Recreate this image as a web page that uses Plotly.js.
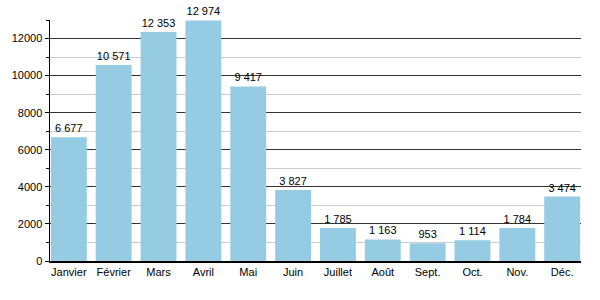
<!DOCTYPE html>
<html><head><meta charset="utf-8">
<script src="https://cdn.plot.ly/plotly-3.0.1.min.js"></script>
<style>body{margin:0;}#c{width:600px;height:300px;}</style>
</head><body><div id="c"></div>
<script>
const months = ["Janvier","Février","Mars","Avril","Mai","Juin","Juillet","Août","Sept.","Oct.","Nov.","Déc."];
const values = [6677,10571,12353,12974,9417,3827,1785,1163,953,1114,1784,3474];

Plotly.newPlot('c', [{
  type:'bar', x:months, y:values, width:0.8,
  marker:{color:'rgb(150,203,228)'},
  texttemplate:'%{y:,}', textposition:'outside', cliponaxis:false,
  textfont:{family:'Liberation Sans, Arial, sans-serif', size:11, color:'#000'},
  hoverinfo:'none'
}], {
  width:600, height:300,
  margin:{l:50, r:19, t:20, b:39},
  separators:', ',
  paper_bgcolor:'#fff', plot_bgcolor:'#fff',
  font:{family:'Liberation Sans, Arial, sans-serif', size:11, color:'#000'},
  xaxis:{range:[-0.42, 11.42], showline:true, linecolor:'#000', linewidth:1.5, ticks:'', tickfont:{size:11}},
  yaxis:{range:[0,13000], dtick:2000, tickformat:'d', showline:true, linecolor:'#000', linewidth:1.5,
    ticks:'outside', ticklen:4, tickcolor:'#000', gridcolor:'#333', gridwidth:1, zeroline:false,
    minor:{dtick:1000, showgrid:true, gridcolor:'#ccc', gridwidth:1, ticks:'outside', ticklen:3, tickcolor:'#000'}},
  showlegend:false
}, {staticPlot:true});
</script></body></html>
